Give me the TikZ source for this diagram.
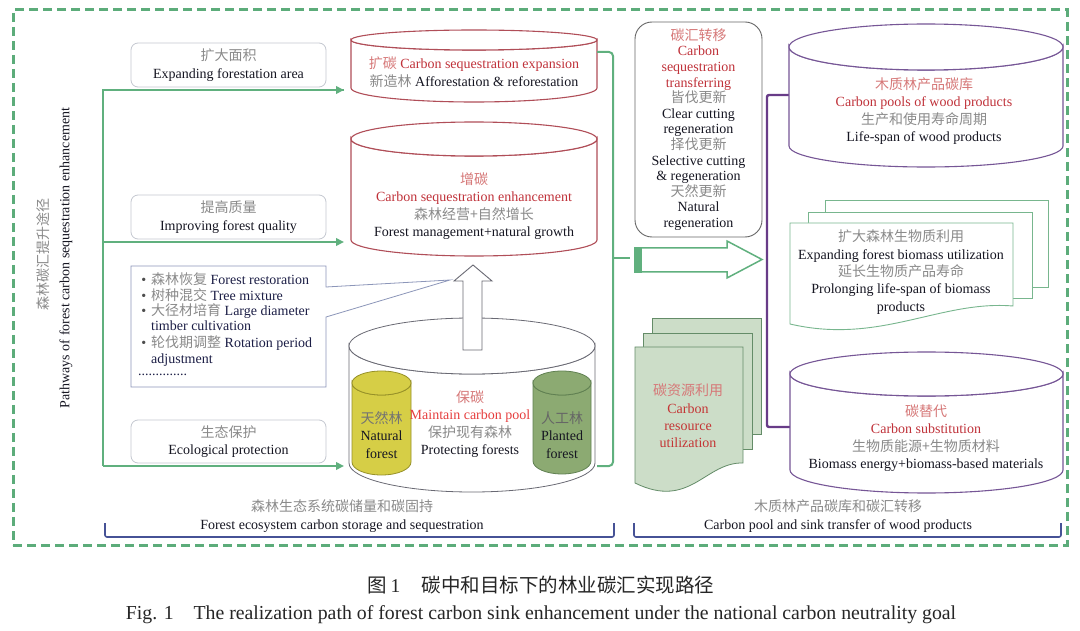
\documentclass[tikz,border=0pt]{standalone}
\usepackage{fontspec}
\setmainfont{Liberation Serif}
\newfontfamily\cjk{Noto Sans CJK SC}
\usetikzlibrary{arrows.meta}
\definecolor{dashgreen}{RGB}{92,172,122}
\definecolor{lgreen}{RGB}{96,176,126}
\definecolor{zhgray}{RGB}{138,138,138}
\definecolor{zhred}{RGB}{214,120,120}
\definecolor{enred}{RGB}{192,50,58}
\definecolor{brightred}{RGB}{230,62,62}
\definecolor{ink}{RGB}{22,22,34}
\definecolor{inknavy}{RGB}{28,30,70}
\definecolor{cylred}{RGB}{176,78,88}
\definecolor{boxgray}{RGB}{196,200,208}
\definecolor{callout}{RGB}{140,150,185}
\definecolor{purp}{RGB}{104,60,136}
\definecolor{cylpurp}{RGB}{118,86,150}
\definecolor{navy}{RGB}{70,82,150}
\definecolor{yel}{RGB}{214,206,70}
\definecolor{yelline}{RGB}{150,144,40}
\definecolor{sage}{RGB}{140,170,114}
\definecolor{sageline}{RGB}{96,128,82}
\definecolor{docgreen}{RGB}{204,221,200}
\definecolor{docline}{RGB}{100,140,104}
\definecolor{doclight}{RGB}{120,182,142}
\definecolor{cylgray}{RGB}{105,105,115}
\newcommand\zh[1]{{\cjk\color{zhgray}#1}}
\newcommand\zhr[1]{{\cjk\color{zhred}#1}}
% cx, rx, ytop, rytop, ybot, rybot, style
\newcommand\mycyl[7]{%
  \path[#7] ({#1-#2},#3) -- ({#1-#2},#5) arc[start angle=180,end angle=0,x radius=#2pt,y radius=#6pt] -- ({#1+#2},#3) arc[start angle=0,end angle=180,x radius=#2pt,y radius=#4pt] -- cycle;
  \path[#7] (#1,#3) ellipse[x radius=#2pt,y radius=#4pt];}
\tikzset{
  txt/.style={font=\fontsize{14}{17.4}\selectfont, align=center, inner sep=0pt, text=ink},
  gbox/.style={draw=boxgray, line width=0.8pt, rounded corners=7pt, minimum width=195pt, fill=white},
  gline/.style={draw=lgreen, line width=2.4pt},
  garrow/.style={gline, -{Triangle[length=8pt,width=7.5pt]}},
  cylR/.style={draw=cylred, line width=1.1pt, fill=white},
  cylG/.style={draw=cylgray, line width=0.8pt, fill=white},
  cylP/.style={draw=cylpurp, line width=1.1pt, fill=white},
  cylY/.style={draw=yelline, line width=0.8pt, fill=yel},
  cylS/.style={draw=sageline, line width=0.8pt, fill=sage},
  wdoc/.style={draw=doclight, line width=0.9pt, fill=white},
  gdoc/.style={draw=docline, line width=0.8pt, fill=docgreen},
  bracketline/.style={draw=navy, line width=1.6pt, rounded corners=2pt},
  bul/.style={txt, anchor=west, text=inknavy},
}
\newcommand\bull{\llap{\textcolor{black!70}{•}\hspace{5pt}}}
\begin{document}
\begin{tikzpicture}[x=1pt,y=1pt,yscale=-1]
\useasboundingbox (0,0) rectangle (1080,631);
\fill[white] (0,0) rectangle (1080,631);

% outer dashed frame
\node[draw=dashgreen, line width=3pt, dash pattern=on 9pt off 5pt, minimum width=1054pt, minimum height=535pt, inner sep=0pt] (frame) at (540,277.5) {};

% vertical labels
\node[txt, rotate=90] (vzh) at (43,255) {\zh{森林碳汇提升途径}};
\node[txt, rotate=90] (ven) at (66,258) {Pathways of forest carbon sequestration enhancement};

% left boxes
\node[gbox, minimum height=44pt, txt] (bx1) at (228.5,65) {\zh{扩大面积}\\Expanding forestation area};
\node[gbox, minimum height=44pt, txt] (bx2) at (228.5,217) {\zh{提高质量}\\Improving forest quality};
\node[gbox, minimum height=43pt, txt] (bx4) at (228.5,441.5) {\zh{生态保护}\\Ecological protection};

% bullet callout box
\path[draw=callout, line width=0.8pt, fill=white] (131,266) -- (326,266) -- (326,287) -- (450,280) -- (326,317) -- (326,387) -- (131,387) -- cycle;
\node[bul] (b1) at (151,279) {\bull\zh{森林恢复} Forest restoration};
\node[bul] (b2) at (151,295) {\bull\zh{树种混交} Tree mixture};
\node[bul] (b3) at (151,311) {\bull\zh{大径材培育} Large diameter};
\node[bul] (b4) at (151,325.5) {timber cultivation};
\node[bul] (b5) at (151,343) {\bull\zh{轮伐期调整} Rotation period};
\node[bul] (b6) at (151,360) {adjustment};
\node[bul] (b7) at (138,375) {..............};

% green trunk and arrows
\coordinate (tTop) at (103,90);
\coordinate (tMid) at (103,242);
\coordinate (tBot) at (103,466);
\coordinate (c1in) at (344,90);
\coordinate (c2in) at (344,242);
\coordinate (c3in) at (344,466);
\draw[gline, line join=miter] (c1in) -- (tTop) -- (tBot);
\draw[garrow] (tTop) -- (c1in);
\draw[garrow] (tMid) -- (c2in);
\draw[garrow] (tBot) -- (c3in);

% cylinder 1
\mycyl{474}{123}{40}{10}{88}{14}{cylR}
\node[txt] (c1) at (474,72) {\zhr{扩碳} {\color{enred}Carbon sequestration expansion}\\\zh{新造林} Afforestation \& reforestation};

% cylinder 2
\mycyl{474}{123}{139}{17}{240}{16}{cylR}
\node[txt] (c2) at (474,206) {\zhr{增碳}\\{\color{enred}Carbon sequestration enhancement}\\\zh{森林经营+自然增长}\\Forest management+natural growth};

% cylinder 3
\mycyl{472}{123}{346}{28}{463}{29}{cylG}
\mycyl{381.5}{29.5}{383}{12}{462}{13}{cylY}
\mycyl{562}{29}{383}{12}{461}{13}{cylS}
\node[txt] (c3) at (470,424) {\zhr{保碳}\\{\color{brightred}Maintain carbon pool}\\\zh{保护现有森林}\\Protecting forests};
\node[txt] (cy) at (381.5,435) {{\cjk\color{black!55}天然林}\\Natural\\forest};
\node[txt] (cg) at (562,435) {{\cjk\color{black!60}人工林}\\Planted\\forest};

% up arrow
\path[draw=cylgray, line width=0.9pt, fill=white] (463,350) -- (463,281) -- (454,281) -- (473,265) -- (492,281) -- (482,281) -- (482,350) -- cycle;
\coordinate (upTip) at (473,265);

% green brace on right of left section
\coordinate (br1) at (597,52);
\coordinate (br2) at (597,466);
\coordinate (brTip) at (630,258);
\draw[gline, line width=2pt, rounded corners=4pt] (br1) -- (613,52) -- (613,466) -- (br2);
\draw[gline, line width=2pt] (613,258) -- (brTip);

% big green arrow
\path[draw=lgreen, line width=1.5pt, fill=white] (641,248) -- (727,248) -- (727,241) -- (762,259.5) -- (727,278) -- (727,272) -- (641,272) -- cycle;
\fill[lgreen] (634,247) rectangle (642,273);
\coordinate (bigTip) at (762,259.5);

% transfer rounded box
\node[draw=black!60, line width=0.9pt, rounded corners=17pt, minimum width=127pt, minimum height=215pt, inner sep=0pt,
      font=\fontsize{14}{15.6}\selectfont, align=center, text=ink] (tr) at (698.5,129.5)
 {\zhr{碳汇转移}\\{\color{enred}Carbon}\\{\color{enred}sequestration}\\{\color{enred}transferring}\\\zh{皆伐更新}\\Clear cutting\\regeneration\\\zh{择伐更新}\\Selective cutting\\\& regeneration\\\zh{天然更新}\\Natural\\regeneration};

% purple bracket
\coordinate (p1) at (790,95);
\coordinate (p2) at (790,427);
\draw[draw=purp, line width=2.4pt, rounded corners=2pt] (p1) -- (767,95) -- (767,427) -- (p2);

% cylinder 4
\mycyl{926}{137}{47}{23}{146}{21}{cylP}
\node[txt] (c4) at (924,111) {\zhr{木质林产品碳库}\\{\color{enred}Carbon pools of wood products}\\\zh{生产和使用寿命周期}\\Life-span of wood products};

% biomass multi-doc
\path[wdoc] (825,200) rectangle (1048,287);
\path[wdoc] (808,212) rectangle (1032,298);
\path[wdoc] (790,223) -- (1013,223) -- (1013,306) .. controls (940,300) and (880,345) .. (790,324) -- cycle;
\node[txt] (bio) at (901,272) {\zh{扩大森林生物质利用}\\Expanding forest biomass utilization\\\zh{延长生物质产品寿命}\\Prolonging life-span of biomass\\products};

% green multi-doc
\path[gdoc] (652,318) rectangle (761,434);
\path[gdoc] (643,333) rectangle (752,449);
\path[gdoc] (635,347) -- (743,347) -- (743,463) .. controls (705,462) and (690,510) .. (635,483) -- cycle;
\node[txt] (res) at (688,416) {\zhr{碳资源利用}\\{\color{brightred!85!black}Carbon}\\{\color{brightred!85!black}resource}\\{\color{brightred!85!black}utilization}};

% cylinder 5
\mycyl{926.5}{136.5}{374}{22}{470}{23}{cylP}
\node[txt] (c5) at (926,438) {\zhr{碳替代}\\{\color{enred}Carbon substitution}\\\zh{生物质能源+生物质材料}\\Biomass energy+biomass-based materials};

% bottom brackets
\draw[bracketline] (105,523) -- (105,537) -- (614,537) -- (614,523);
\draw[bracketline] (634,523) -- (634,537) -- (1061,537) -- (1061,523);
\node[txt] (lab1) at (342,516) {\zh{森林生态系统碳储量和碳固持}\\Forest ecosystem carbon storage and sequestration};
\node[txt] (lab2) at (838,516) {\zh{木质林产品碳库和碳汇转移}\\Carbon pool and sink transfer of wood products};

% caption
\node[txt, font=\fontsize{19.5}{22}\selectfont, text=black!85] (capzh) at (541,585) {{\cjk 图}\,1\hspace{1.1em}{\cjk 碳中和目标下的林业碳汇实现路径}};
\node[txt, font=\fontsize{19.8}{22}\selectfont, text=black!85] (capen) at (541,615) {Fig. 1\hspace{1em}The realization path of forest carbon sink enhancement under the national carbon neutrality goal};
\end{tikzpicture}
\end{document}
